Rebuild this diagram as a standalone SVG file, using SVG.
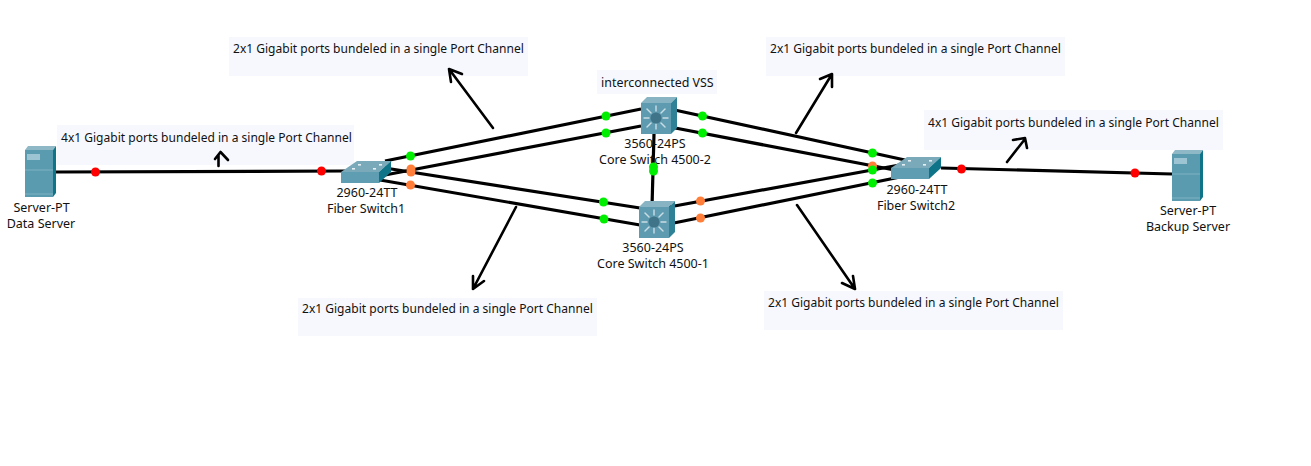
<svg xmlns="http://www.w3.org/2000/svg" width="1311" height="466" viewBox="0 0 1311 466">
<style>
  text { font-family: "Noto Sans", "DejaVu Sans", sans-serif; font-size: 12.04px; fill: #111; }
  .node-label { text-anchor: middle; font-size: 12.5px; }
  .vss { font-size: 12.45px; }
  .note-bg { fill: #f7f8fe; }
  .link { stroke: #000; stroke-width: 3.2; fill: none; }
  .pointer { stroke: #000; stroke-width: 2.6; fill: none; stroke-linecap: round; stroke-linejoin: round; }
  .red { fill: #ff0000; } .green { fill: #00ee00; } .orange { fill: #ff7f3a; }
</style>
<defs>
  <g id="server">
    <polygon points="0,4 3,0 31,0 28,4" fill="#8fb8c6"/>
    <rect x="0" y="4" width="28" height="47" fill="#5b9bb0"/>
    <polygon points="28,4 31,0 31,47 28,51" fill="#0f7488"/>
    <rect x="2" y="8" width="13" height="6" fill="#9cc4d2"/>
    <line x1="0" y1="24" x2="28" y2="24" stroke="#7fb2c2" stroke-width="1"/>
    <line x1="0" y1="48" x2="28" y2="48" stroke="#7fb2c2" stroke-width="1"/>
  </g>
  <g id="access-switch">
    <polygon points="0,13 16,2 50,2 38,13" fill="#7aa9ba"/>
    <rect x="0" y="13" width="38" height="11" fill="#5f9db2"/>
    <polygon points="38,13 50,2 50,13 38,24" fill="#0f7488"/>
    <g fill="#e6f0f4">
      <rect x="17" y="5" width="3" height="1.6"/><rect x="38" y="5" width="3" height="1.6"/>
      <rect x="11" y="9" width="3" height="1.6"/><rect x="32" y="9" width="3" height="1.6"/>
    </g>
  </g>
  <g id="core-switch">
    <polygon points="0,6 6,0 36,0 30,6" fill="#88b3c2"/>
    <rect x="0" y="6" width="30" height="31" fill="#5f9bb0"/>
    <polygon points="30,6 36,0 36,31 30,37" fill="#2f8196"/>
    <g stroke="#c9dde5" stroke-width="1.4" stroke-linecap="round">
      <line x1="15" y1="9" x2="15" y2="14"/><line x1="15" y1="27" x2="15" y2="32"/>
      <line x1="3" y1="21" x2="8" y2="21"/><line x1="22" y1="21" x2="27" y2="21"/>
      <line x1="6" y1="12" x2="10" y2="16"/><line x1="24" y1="12" x2="20" y2="16"/>
      <line x1="6" y1="30" x2="10" y2="26"/><line x1="24" y1="30" x2="20" y2="26"/>
    </g>
    <circle cx="15" cy="21" r="5.500" fill="#3f7489"/>
  </g>
</defs>

<!-- Note backgrounds -->
<g id="notes">
  <rect class="note-bg" x="229" y="37" width="299" height="39"/>
  <rect class="note-bg" x="766" y="37" width="299" height="39"/>
  <rect class="note-bg" x="57" y="125" width="297" height="40"/>
  <rect class="note-bg" x="924" y="110" width="299" height="40"/>
  <rect class="note-bg" x="298" y="298" width="299" height="38"/>
  <rect class="note-bg" x="764" y="291" width="299" height="39"/>
  <rect class="note-bg" x="597" y="70" width="120" height="24"/>
  <text x="233" y="53">2x1 Gigabit ports bundeled in a single Port Channel</text>
  <text x="770" y="53">2x1 Gigabit ports bundeled in a single Port Channel</text>
  <text x="61" y="142">4x1 Gigabit ports bundeled in a single Port Channel</text>
  <text x="928" y="127">4x1 Gigabit ports bundeled in a single Port Channel</text>
  <text x="302" y="313">2x1 Gigabit ports bundeled in a single Port Channel</text>
  <text x="768" y="307">2x1 Gigabit ports bundeled in a single Port Channel</text>
  <text class="vss" x="601" y="87">interconnected VSS</text>
</g>

<!-- Cabling between devices -->
<g id="connectors">
  <line class="link" x1="56" y1="172" x2="345" y2="171"/>
  <line class="link" x1="385" y1="161" x2="641" y2="109"/>
  <line class="link" x1="385" y1="175" x2="641" y2="126"/>
  <line class="link" x1="385" y1="168" x2="640" y2="208"/>
  <line class="link" x1="380" y1="180" x2="640" y2="225"/>
  <line class="link" x1="670" y1="109" x2="905" y2="160"/>
  <line class="link" x1="670" y1="127" x2="905" y2="172"/>
  <line class="link" x1="669" y1="207" x2="905" y2="164"/>
  <line class="link" x1="669" y1="224" x2="905" y2="176"/>
  <line class="link" x1="654" y1="134" x2="652" y2="207"/>
  <line class="link" x1="941" y1="168" x2="1172" y2="174"/>
</g>

<g id="server-data">
  <use href="#server" x="25" y="146"/>
  <text class="node-label" x="41.500" y="212">Server-PT</text>
  <text class="node-label" x="41" y="228">Data Server</text>
</g>
<g id="switch-fiber-1">
  <use href="#access-switch" x="341" y="159"/>
  <text class="node-label" x="367" y="197">2960-24TT</text>
  <text class="node-label" x="366" y="213">Fiber Switch1</text>
</g>
<g id="core-4500-2">
  <use href="#core-switch" x="641" y="97"/>
  <text class="node-label" x="655" y="148">3560-24PS</text>
  <text class="node-label" x="655" y="164">Core Switch 4500-2</text>
</g>
<g id="core-4500-1">
  <use href="#core-switch" x="639" y="201"/>
  <text class="node-label" x="653" y="252">3560-24PS</text>
  <text class="node-label" x="653" y="268">Core Switch 4500-1</text>
</g>
<g id="switch-fiber-2">
  <use href="#access-switch" x="891" y="155"/>
  <text class="node-label" x="917" y="194">2960-24TT</text>
  <text class="node-label" x="916" y="210">Fiber Switch2</text>
</g>
<g id="server-backup">
  <use href="#server" x="1172" y="150"/>
  <text class="node-label" x="1188" y="215">Server-PT</text>
  <text class="node-label" x="1188" y="231">Backup Server</text>
</g>

<!-- Link state lights -->
<g id="link-lights">
  <circle class="red" cx="95.500" cy="172" r="4.500"/>
  <circle class="red" cx="321.500" cy="171" r="4.500"/>
  <circle class="red" cx="961.500" cy="169" r="4.500"/>
  <circle class="red" cx="1135" cy="173" r="4.500"/>
  <circle class="green" cx="410.500" cy="156" r="4.500"/>
  <circle class="orange" cx="411" cy="169" r="4.500"/>
  <circle class="orange" cx="411" cy="172" r="4.500"/>
  <circle class="orange" cx="410.500" cy="185" r="4.500"/>
  <circle class="green" cx="606" cy="116" r="4.500"/>
  <circle class="green" cx="606" cy="133" r="4.500"/>
  <circle class="green" cx="603.500" cy="202" r="4.500"/>
  <circle class="green" cx="604" cy="219" r="4.500"/>
  <circle class="green" cx="702.500" cy="116" r="4.500"/>
  <circle class="green" cx="702.500" cy="133" r="4.500"/>
  <circle class="orange" cx="700.500" cy="201" r="4.500"/>
  <circle class="orange" cx="700.500" cy="218" r="4.500"/>
  <circle class="green" cx="872.500" cy="153" r="4.500"/>
  <circle class="orange" cx="872.500" cy="166" r="4.500"/>
  <circle class="green" cx="872.500" cy="170" r="4.500"/>
  <circle class="green" cx="872.500" cy="183" r="4.500"/>
  <circle class="green" cx="653.500" cy="167" r="4.500"/>
  <circle class="green" cx="653.500" cy="171" r="4.500"/>
</g>

<!-- Hand-drawn callout pointers -->
<g id="pointers">
  <path class="pointer" d="M493 128 L449 69 M449 69 L451 82 M449 69 L462 74"/>
  <path class="pointer" d="M796 133 L832 74 M832 74 L820 79 M832 74 L832 87"/>
  <path class="pointer" d="M516 207 L473 289 M473 289 L484 281 M473 289 L473 276"/>
  <path class="pointer" d="M797 205 L855 289 M855 289 L853 276 M855 289 L842 283"/>
  <path class="pointer" d="M218.500 166 L218.500 155 M215 159 L220.500 152 L228 160"/>
  <path class="pointer" d="M1007 162 L1025 139 M1013 140 L1025 138 L1027 148"/>
</g>
</svg>
